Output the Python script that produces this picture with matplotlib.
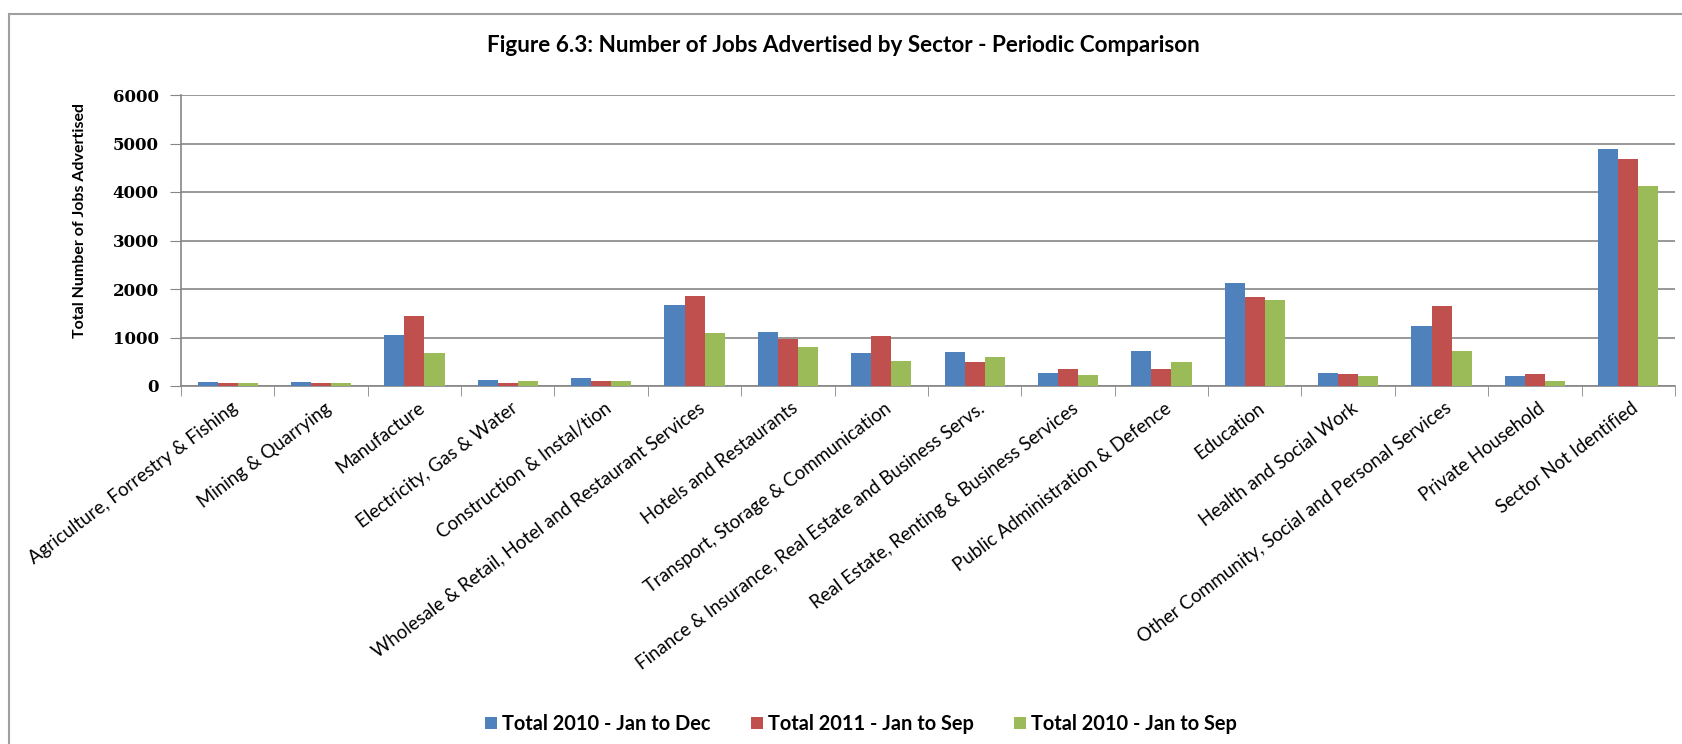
import numpy as np
import matplotlib
matplotlib.use("Agg")
import matplotlib.pyplot as plt
from matplotlib.patches import Rectangle
from matplotlib.transforms import ScaledTranslation

sectors = [
    "Agriculture, Forrestry & Fishing",
    "Mining & Quarrying",
    "Manufacture",
    "Electricity, Gas & Water",
    "Construction & Instal/tion",
    "Wholesale & Retail, Hotel and Restaurant Services",
    "Hotels and Restaurants",
    "Transport, Storage & Communication",
    "Finance & Insurance, Real Estate and Business Servs.",
    "Real Estate, Renting & Business Services",
    "Public Administration & Defence",
    "Education",
    "Health and Social Work",
    "Other Community, Social and Personal Services",
    "Private Household",
    "Sector Not Identified",
]
total_2010_dec = [90, 90, 1050, 130, 170, 1670, 1115, 690, 710, 260, 730, 2125, 275, 1245, 215, 4895]
total_2011_sep = [65, 60, 1435, 62, 110, 1865, 960, 1030, 500, 345, 345, 1845, 255, 1650, 240, 4680]
total_2010_sep = [65, 60, 690, 105, 110, 1095, 795, 520, 605, 220, 490, 1780, 215, 715, 105, 4120]
series_names = ["Total 2010 - Jan to Dec", "Total 2011 - Jan to Sep", "Total 2010 - Jan to Sep"]
colors = ["#4F81BD", "#C0504D", "#9BBB59"]
yticks = [0, 1000, 2000, 3000, 4000, 5000, 6000]

W, H = 1683, 744
fig = plt.figure(figsize=(W / 100, H / 100), dpi=100)
ax = fig.add_axes([181 / W, 1 - 386 / H, (1675 - 181) / W, (386 - 95) / H])

# outer chart frame, cut off at right and bottom
fig.patches.append(Rectangle((9 / W, -0.1), 1.2, 1 - 14 / H + 0.1,
                             transform=fig.transFigure, fill=False,
                             edgecolor="#a0a0a0", linewidth=1.5))

x = np.arange(len(sectors))
bw = 0.215
for i, (vals, name, c) in enumerate(zip([total_2010_dec, total_2011_sep, total_2010_sep],
                                        series_names, colors)):
    ax.bar(x + (i - 1) * bw, vals, width=bw, color=c, label=name, zorder=3)

ax.set_xlim(-0.5, len(sectors) - 0.5)
ax.set_ylim(0, 6000)
ax.set_yticks(yticks)
ax.set_yticklabels([str(v) for v in yticks], family="DejaVu Serif",
                   fontweight="bold", fontsize=12)
ax.yaxis.grid(True, color="#868686", linewidth=1.2, zorder=0)
ax.tick_params(axis="y", length=8, color="#868686", pad=8)

ax.set_xticks(x)
ax.set_xticklabels(sectors, rotation=37, ha="right", va="center",
                   rotation_mode="anchor", family="Lato", fontsize=13.4)
ax.tick_params(axis="x", length=0, pad=16)
# nudge the slanted labels so their ends sit just right of the group centre
shift = ScaledTranslation(8 / 100, 2 / 100, fig.dpi_scale_trans)
for lab in ax.get_xticklabels():
    lab.set_transform(lab.get_transform() + shift)
ax.set_xticks(np.arange(len(sectors) + 1) - 0.5, minor=True)
ax.tick_params(axis="x", which="minor", length=7, color="#868686")

for s in ["top", "right"]:
    ax.spines[s].set_visible(False)
for s in ["left", "bottom"]:
    ax.spines[s].set_color("#868686")
    ax.spines[s].set_linewidth(1.2)

fig.text(80 / W, 1 - 220 / H, "Total Number of Jobs Advertised", rotation=90,
         ha="center", va="center", family="Lato", fontweight="bold", fontsize=11.5)

fig.text(843 / W, 1 - 45 / H,
         "Figure 6.3: Number of Jobs Advertised by Sector - Periodic Comparison",
         ha="center", va="center", family="Lato", fontweight="bold", fontsize=16.2)

fig.legend(loc="center", bbox_to_anchor=(861 / W, 1 - 724 / H), ncol=3,
           frameon=False, handlelength=0.6, handleheight=0.6, handletextpad=0.25,
           columnspacing=2.0, prop={"family": "Lato", "weight": "bold", "size": 14.4})

fig.savefig("out.png", dpi=100)
